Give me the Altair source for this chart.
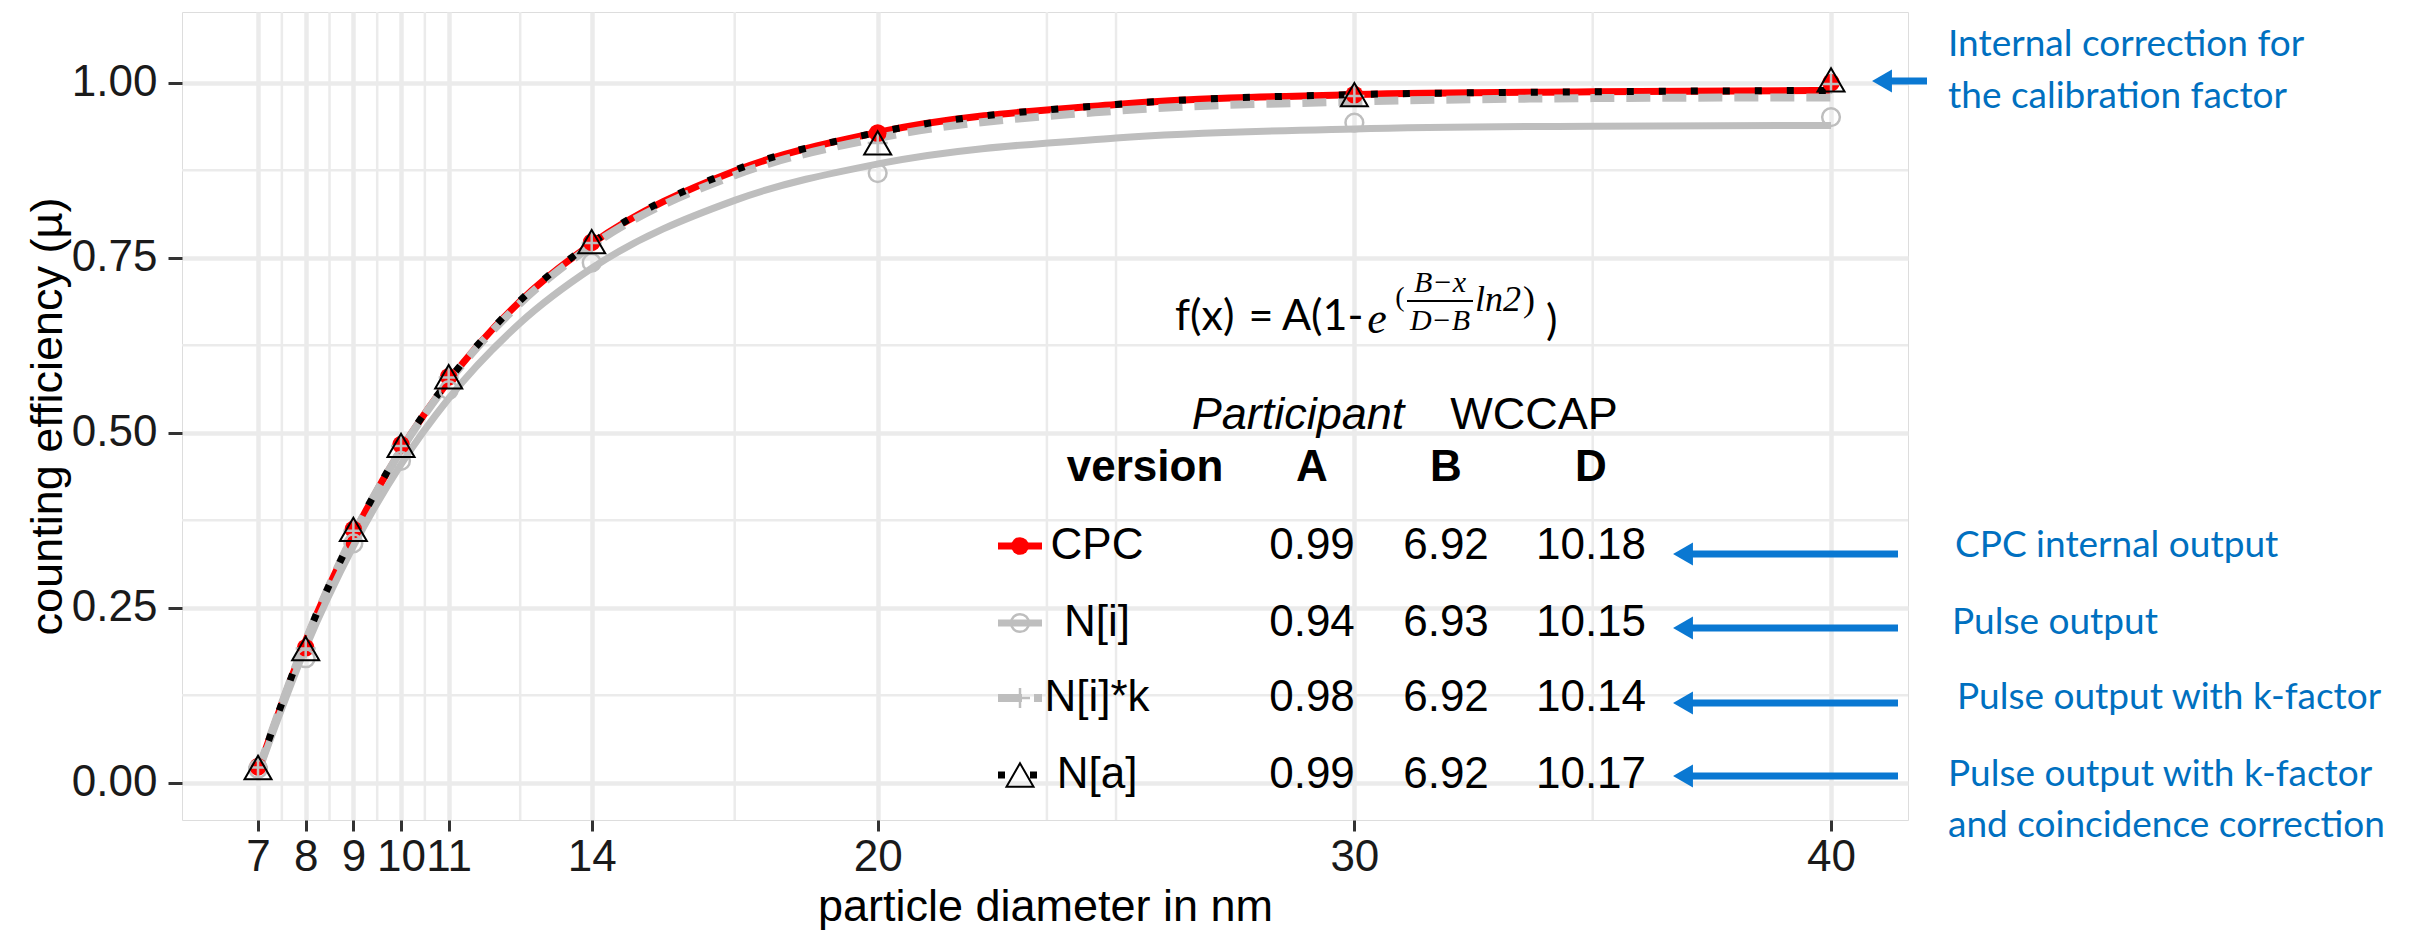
import altair as alt
import pandas as pd

# ---------------- values ----------------
versions = ["CPC", "N[i]", "N[i]*k", "N[a]"]
fit_A = ["0.99", "0.94", "0.98", "0.99"]
fit_B = ["6.92", "6.93", "6.92", "6.92"]
fit_D = ["10.18", "10.15", "10.14", "10.17"]

# measured points
diameter = [7, 8, 9, 10, 11, 14, 20, 30, 40]
eff_cpc = [0.023, 0.193, 0.362, 0.483, 0.580, 0.772, 0.928, 0.983, 1.000]
eff_ni = [0.020, 0.178, 0.342, 0.460, 0.561, 0.743, 0.871, 0.943, 0.951]
eff_nik = [0.022, 0.192, 0.360, 0.481, 0.579, 0.771, 0.914, 0.981, 0.998]
eff_na = [0.022, 0.192, 0.362, 0.482, 0.580, 0.773, 0.914, 0.983, 1.004]

# fitted curves
curve_d = [7, 8, 9, 10, 11, 12.5, 14, 17, 20, 25, 30, 35, 40]
curve_cpc = [0.017, 0.203, 0.354, 0.476, 0.574, 0.688, 0.770, 0.874, 0.929, 0.969, 0.983, 0.987, 0.989]
curve_ni = [0.014, 0.193, 0.338, 0.455, 0.549, 0.657, 0.735, 0.832, 0.884, 0.921, 0.934, 0.938, 0.939]
curve_nik = [0.017, 0.203, 0.354, 0.475, 0.573, 0.685, 0.767, 0.868, 0.921, 0.960, 0.973, 0.978, 0.979]
curve_na = [0.017, 0.204, 0.355, 0.477, 0.575, 0.689, 0.771, 0.875, 0.929, 0.969, 0.983, 0.987, 0.989]

x_ticks = [7, 8, 9, 10, 11, 14, 20, 30, 40]
y_ticks = [0.0, 0.25, 0.5, 0.75, 1.0]
x_minor = [7.5, 8.5, 9.5, 10.5, 12.5, 17, 23.55, 25, 35]
y_minor = [0.125, 0.375, 0.625, 0.875]

notes_top = ["Internal correction for", "the calibration factor"]
notes_rows = ["CPC internal output", "Pulse output", "Pulse output with k-factor",
              "Pulse output with k-factor", "and coincidence correction"]

# ---------------- layout / style ----------------
L, T = 182, 12
W, H = 1726, 808
FONT = "Liberation Sans"
RED, GREY, BLUE_T, BLUE_A = "#FF0000", "#BEBEBE", "#0070C0", "#0A78D2"
GRID = "#EBEBEB"

XS = alt.Scale(domain=[5.405, 41.615], nice=False, zero=False)
YS = alt.Scale(domain=[-0.053, 1.101], nice=False, zero=False)

x_axis = alt.Axis(values=x_ticks, title="particle diameter in nm", grid=True, gridColor=GRID,
                  gridWidth=4.5, domain=False, tickColor="#333333", tickWidth=3, tickSize=11,
                  labelFont=FONT, labelFontSize=44, labelColor="#1A1A1A", labelPadding=4,
                  labelFlush=False, labelOverlap=False, titleFont=FONT, titleFontSize=45,
                  titleFontWeight="normal", titleColor="#000000", titleY=100,
                  titleBaseline="alphabetic")
y_axis = alt.Axis(values=y_ticks, format=".2f", title="counting efficiency (µ)", grid=True,
                  gridColor=GRID, gridWidth=4.5, domain=False, tickColor="#333333", tickWidth=3,
                  tickSize=14, labelFont=FONT, labelFontSize=44, labelColor="#1A1A1A",
                  labelPadding=11, labelFlush=False, labelOverlap=False, titleFont=FONT,
                  titleFontSize=45, titleFontWeight="normal", titleColor="#000000", titleX=-121,
                  titleBaseline="alphabetic")


def xe(f):
    return alt.X(f"{f}:Q", scale=XS, axis=x_axis)


def ye(f):
    return alt.Y(f"{f}:Q", scale=YS, axis=y_axis)


def px(f):
    return alt.X(f"{f}:Q", scale=None, axis=None)


def py(f):
    return alt.Y(f"{f}:Q", scale=None, axis=None)


layers = []

# minor grid
layers.append(alt.Chart(pd.DataFrame({"v": x_minor})).mark_rule(color=GRID, strokeWidth=2.5)
              .encode(x=xe("v")))
layers.append(alt.Chart(pd.DataFrame({"v": y_minor})).mark_rule(color=GRID, strokeWidth=2.5)
              .encode(y=ye("v")))

# curves
styles = {
    "CPC": dict(color=RED, strokeWidth=7),
    "N[i]": dict(color=GREY, strokeWidth=7),
    "N[i]*k": dict(color=GREY, strokeWidth=8, strokeDash=[24, 12]),
    "N[a]": dict(color="#000000", strokeWidth=7, strokeDash=[7, 25]),
}
curves = {"CPC": curve_cpc, "N[i]": curve_ni, "N[i]*k": curve_nik, "N[a]": curve_na}
for name in versions:
    df = pd.DataFrame({"d": curve_d, "e": curves[name]})
    layers.append(alt.Chart(df).mark_line(interpolate="monotone", strokeCap="butt", **styles[name])
                  .encode(x=xe("d"), y=ye("e")))

# points
pt_styles = {
    "CPC": dict(shape="circle", filled=True, color=RED, size=314, opacity=1),
    "N[i]": dict(shape="circle", filled=False, color=GREY, size=314, strokeWidth=2.5, opacity=1),
    "N[i]*k": dict(shape="M-1,0H1M0,-1V1", filled=False, color=GREY, size=400, strokeWidth=2.5,
                   opacity=1),
    "N[a]": dict(shape="triangle-up", filled=False, color="#000000", size=729, strokeWidth=2,
                 opacity=1),
}
pts = {"CPC": eff_cpc, "N[i]": eff_ni, "N[i]*k": eff_nik, "N[a]": eff_na}
for name in versions:
    df = pd.DataFrame({"d": diameter, "e": pts[name]})
    layers.append(alt.Chart(df).mark_point(**pt_styles[name]).encode(x=xe("d"), y=ye("e")))

# ---------------- legend table (pixel placed) ----------------
row_y = [546, 623, 698, 775]
key_x0, key_x1, key_xc = 998, 1042, 1020
for i, name in enumerate(versions):
    kdf = pd.DataFrame({"x": [key_x0 - L], "x2": [key_x1 - L], "y": [row_y[i] - T],
                        "xc": [key_xc - L]})
    st = dict(styles[name])
    layers.append(alt.Chart(kdf).mark_rule(strokeCap="butt", **st)
                  .encode(x=px("x"), x2="x2:Q", y=py("y")))
    layers.append(alt.Chart(kdf).mark_point(**pt_styles[name]).encode(x=px("xc"), y=py("y")))

col_x = [1097, 1312, 1446, 1591]
body = []
for i in range(len(versions)):
    for cx, val in zip(col_x, [versions[i], fit_A[i], fit_B[i], fit_D[i]]):
        body.append({"x": cx - L, "y": row_y[i] - T, "t": val})
layers.append(alt.Chart(pd.DataFrame(body)).mark_text(font=FONT, fontSize=44, color="#000000",
                                                        align="center", baseline="middle")
              .encode(x=px("x"), y=py("y"), text="t:N"))

head = pd.DataFrame({"x": [1145 - L, 1312 - L, 1446 - L, 1591 - L], "y": [468 - T] * 4,
                     "t": ["version", "A", "B", "D"]})
layers.append(alt.Chart(head).mark_text(font=FONT, fontSize=44, fontWeight="bold", color="#000000",
                                         align="center", baseline="middle")
              .encode(x=px("x"), y=py("y"), text="t:N"))
part = pd.DataFrame({"x": [1298 - L], "y": [415 - T], "t": ["Participant"]})
layers.append(alt.Chart(part).mark_text(font=FONT, fontSize=45, fontStyle="italic", color="#000000",
                                         align="center", baseline="middle")
              .encode(x=px("x"), y=py("y"), text="t:N"))
wcc = pd.DataFrame({"x": [1534 - L], "y": [415 - T], "t": ["WCCAP"]})
layers.append(alt.Chart(wcc).mark_text(font=FONT, fontSize=45, color="#000000",
                                        align="center", baseline="middle")
              .encode(x=px("x"), y=py("y"), text="t:N"))


# ---------------- formula ----------------
def txt(x, y, t, **kw):
    d = pd.DataFrame({"x": [x - L], "y": [y - T], "t": [t]})
    base = dict(color="#000000", baseline="middle")
    base.update(kw)
    return alt.Chart(d).mark_text(**base).encode(x=px("x"), y=py("y"), text="t:N")


layers.append(txt(1175, 317, "f(x)", font="Lato", fontSize=43, align="left"))
layers.append(txt(1261, 317, "=", font="Lato", fontSize=43, align="center"))
layers.append(txt(1282, 317, "A(1-", font="Lato", fontSize=43, align="left"))
layers.append(txt(1377, 320, "e", font="Liberation Serif", fontSize=44, fontStyle="italic",
                  align="center"))
layers.append(txt(1400, 298, "(", font="Liberation Serif", fontSize=28, align="center"))
layers.append(txt(1440, 283, "B\u2212x", font="Liberation Serif", fontSize=30, fontStyle="italic",
                  align="center"))
layers.append(txt(1440, 321, "D\u2212B", font="Liberation Serif", fontSize=30, fontStyle="italic",
                  align="center"))
layers.append(txt(1475, 300, "ln2", font="Liberation Serif", fontSize=36, fontStyle="italic",
                  align="left"))
layers.append(txt(1523, 300, ")", font="Liberation Serif", fontSize=36, align="left"))
layers.append(txt(1546, 322, ")", font="Lato", fontSize=43, align="left"))
bar = pd.DataFrame({"x": [1407 - L], "x2": [1473 - L], "y": [301 - T]})
layers.append(alt.Chart(bar).mark_rule(color="#000000", strokeWidth=2)
              .encode(x=px("x"), x2="x2:Q", y=py("y")))

# ---------------- annotations ----------------
arrows = pd.DataFrame({"tip": [1872, 1673, 1673, 1673, 1673],
                       "tail": [1927, 1898, 1898, 1898, 1898],
                       "y": [81, 554, 628, 703, 776]})
arrows["hx"] = arrows["tip"] + 10 - L
arrows["tail"] = arrows["tail"] - L
arrows["y"] = arrows["y"] - T
layers.append(alt.Chart(arrows).mark_rule(color=BLUE_A, strokeWidth=7, strokeCap="butt")
              .encode(x=px("hx"), x2="tail:Q", y=py("y")))
layers.append(alt.Chart(arrows).mark_point(shape="triangle-left", filled=True, color=BLUE_A,
                                            size=529, opacity=1)
              .encode(x=px("hx"), y=py("y")))

note_pos = [(1948, 45), (1948, 97), (1955, 546), (1952, 623), (1957, 698), (1948, 775), (1948, 826)]
notes = notes_top + notes_rows
ndf = pd.DataFrame({"x": [p[0] - L for p in note_pos], "y": [p[1] - T for p in note_pos],
                    "t": notes})
layers.append(alt.Chart(ndf).mark_text(font="Lato", fontSize=37, color=BLUE_T, align="left",
                                        baseline="middle")
              .encode(x=px("x"), y=py("y"), text="t:N"))

chart = (alt.layer(*layers)
         .properties(width=W, height=H, autosize=alt.AutoSizeParams(type="none"),
                     padding={"left": L, "top": T, "right": 2420 - L - W, "bottom": 933 - T - H},
                     background="#FFFFFF")
         .configure_view(stroke="#333333", strokeWidth=3)
         .configure(font=FONT))

chart.save("out.html", embed_options={"renderer": "svg", "actions": False})
